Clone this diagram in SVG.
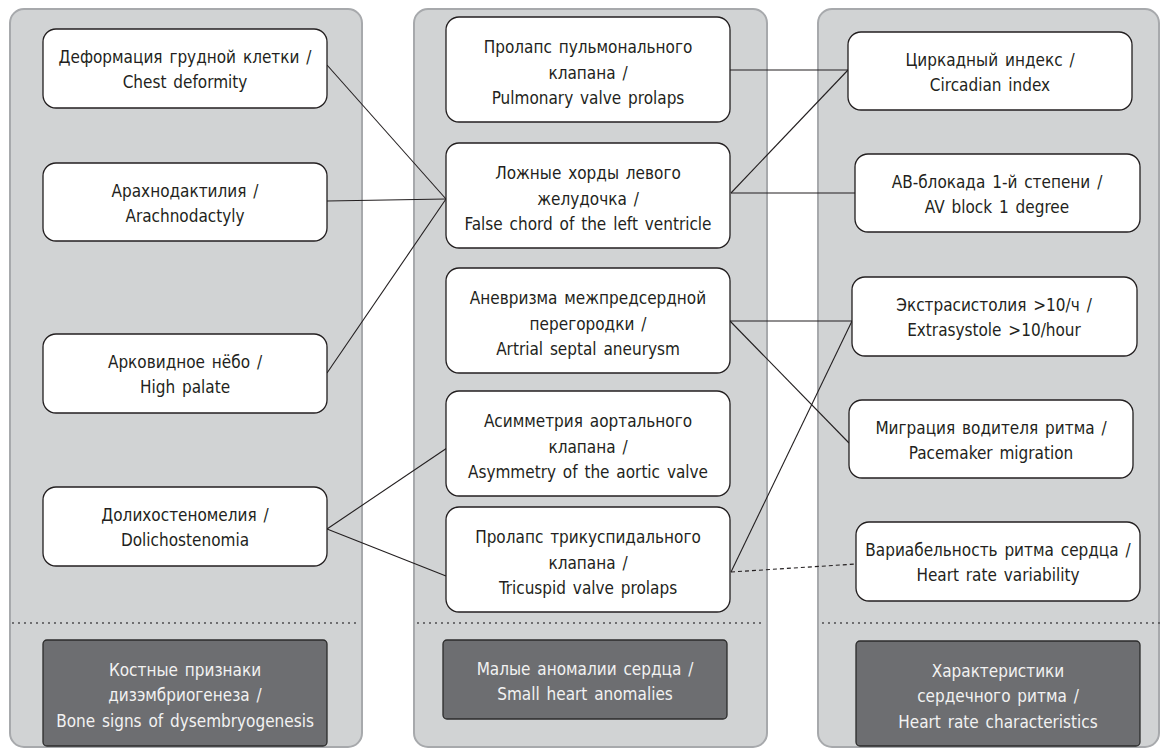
<svg xmlns="http://www.w3.org/2000/svg" width="1163" height="748" viewBox="0 0 1163 748">
<style>
.panel{fill:#d1d3d4;stroke:#a7a9ac;stroke-width:2}
.node{fill:#ffffff;stroke:#231f20;stroke-width:1.3}
.dark{fill:#6d6e71;stroke:#2b2b2b;stroke-width:1.3}
.sep{stroke:#4d4d4f;stroke-width:2;stroke-linecap:round;stroke-dasharray:0 6;fill:none}
.t{font-family:"Liberation Sans Narrow","DejaVu Sans Condensed","Roboto Condensed","Liberation Sans",sans-serif;font-size:17px;fill:#231f20;text-anchor:middle;word-spacing:2px}
.tw{fill:#f2f2f2}
.conn line{stroke:#231f20;stroke-width:1.1}
.conn .dash{stroke-dasharray:4 3}
</style>
<rect fill="#ffffff" x="0" y="0" width="1163" height="748"/>
<g id="panels">
<rect class="panel" x="10" y="9" width="352" height="738" rx="14"/>
<rect class="panel" x="414" y="9" width="353" height="738" rx="14"/>
<rect class="panel" x="818" y="9" width="341" height="738" rx="14"/>
<line class="sep" x1="13" y1="623" x2="358" y2="623"/>
<line class="sep" x1="418" y1="623" x2="762" y2="623"/>
<line class="sep" x1="823" y1="623" x2="1160" y2="623"/>
</g>
<g id="connectors" class="conn">
<line x1="327" y1="65" x2="446" y2="199"/>
<line x1="327" y1="201" x2="446" y2="199"/>
<line x1="327" y1="373" x2="446" y2="199"/>
<line x1="327" y1="529" x2="447" y2="448"/>
<line x1="327" y1="529" x2="446" y2="576"/>
<line x1="730" y1="70" x2="848" y2="70"/>
<line x1="731" y1="193" x2="848" y2="70"/>
<line x1="731" y1="193" x2="855" y2="193"/>
<line x1="730" y1="321" x2="852" y2="321"/>
<line x1="730" y1="321" x2="849" y2="443"/>
<line x1="731" y1="572" x2="852" y2="321"/>
<line class="dash" x1="731" y1="572" x2="856" y2="564"/>
</g>
<g id="n-chest"><rect class="node" x="43" y="29" width="284" height="79" rx="13"/>
<text class="t" x="185" y="63">Деформация грудной клетки /</text><text class="t" x="185" y="88">Chest deformity</text></g>
<g id="n-arachno"><rect class="node" x="43" y="163" width="284" height="78" rx="13"/>
<text class="t" x="185" y="197">Арахнодактилия /</text><text class="t" x="185" y="222">Arachnodactyly</text></g>
<g id="n-palate"><rect class="node" x="43" y="334" width="284" height="79" rx="13"/>
<text class="t" x="185" y="368">Арковидное нёбо /</text><text class="t" x="185" y="393">High palate</text></g>
<g id="n-dolicho"><rect class="node" x="43" y="487" width="284" height="79" rx="13"/>
<text class="t" x="185" y="521">Долихостеномелия /</text><text class="t" x="185" y="546">Dolichostenomia</text></g>
<g id="n-bone"><rect class="dark" x="43" y="640" width="284" height="106" rx="4"/>
<text class="t tw" x="185" y="676">Костные признаки</text><text class="t tw" x="185" y="701">дизэмбриогенеза /</text><text class="t tw" x="185" y="727">Bone signs of dysembryogenesis</text></g>

<g id="n-pulm"><rect class="node" x="446" y="17" width="284" height="105" rx="13"/>
<text class="t" x="588" y="53">Пролапс пульмонального</text><text class="t" x="588" y="78.5">клапана /</text><text class="t" x="588" y="104">Pulmonary valve prolaps</text></g>
<g id="n-chord"><rect class="node" x="446" y="143" width="284" height="105" rx="13"/>
<text class="t" x="588" y="179">Ложные хорды левого</text><text class="t" x="588" y="204.5">желудочка /</text><text class="t" x="588" y="230">False chord of the left ventricle</text></g>
<g id="n-aneur"><rect class="node" x="446" y="268" width="284" height="105" rx="13"/>
<text class="t" x="588" y="304">Аневризма межпредсердной</text><text class="t" x="588" y="329.5">перегородки /</text><text class="t" x="588" y="355">Artrial septal aneurysm</text></g>
<g id="n-asym"><rect class="node" x="446" y="391" width="284" height="105" rx="13"/>
<text class="t" x="588" y="427">Асимметрия аортального</text><text class="t" x="588" y="452.5">клапана /</text><text class="t" x="588" y="478">Asymmetry of the aortic valve</text></g>
<g id="n-tric"><rect class="node" x="446" y="507" width="284" height="105" rx="13"/>
<text class="t" x="588" y="543">Пролапс трикуспидального</text><text class="t" x="588" y="568.5">клапана /</text><text class="t" x="588" y="594">Tricuspid valve prolaps</text></g>
<g id="n-heart"><rect class="dark" x="443" y="640" width="284" height="79" rx="4"/>
<text class="t tw" x="585" y="675">Малые аномалии сердца /</text><text class="t tw" x="585" y="700">Small heart anomalies</text></g>

<g id="n-circ"><rect class="node" x="848" y="32" width="284" height="78" rx="13"/>
<text class="t" x="990" y="66">Циркадный индекс /</text><text class="t" x="990" y="91">Circadian index</text></g>
<g id="n-av"><rect class="node" x="855" y="154" width="285" height="78" rx="13"/>
<text class="t" x="997" y="188">АВ-блокада 1-й степени /</text><text class="t" x="997" y="213">AV block 1 degree</text></g>
<g id="n-extra"><rect class="node" x="852" y="277" width="285" height="79" rx="13"/>
<text class="t" x="994" y="311">Экстрасистолия &gt;10/ч /</text><text class="t" x="994" y="336">Extrasystole &gt;10/hour</text></g>
<g id="n-pace"><rect class="node" x="849" y="400" width="284" height="78" rx="13"/>
<text class="t" x="991" y="434">Миграция водителя ритма /</text><text class="t" x="991" y="459">Pacemaker migration</text></g>
<g id="n-hrv"><rect class="node" x="856" y="522" width="284" height="79" rx="13"/>
<text class="t" x="998" y="556">Вариабельность ритма сердца /</text><text class="t" x="998" y="581">Heart rate variability</text></g>
<g id="n-hrc"><rect class="dark" x="856" y="641" width="284" height="105" rx="4"/>
<text class="t tw" x="998" y="677">Характеристики</text><text class="t tw" x="998" y="702">сердечного ритма /</text><text class="t tw" x="998" y="728">Heart rate characteristics</text></g>
</svg>
